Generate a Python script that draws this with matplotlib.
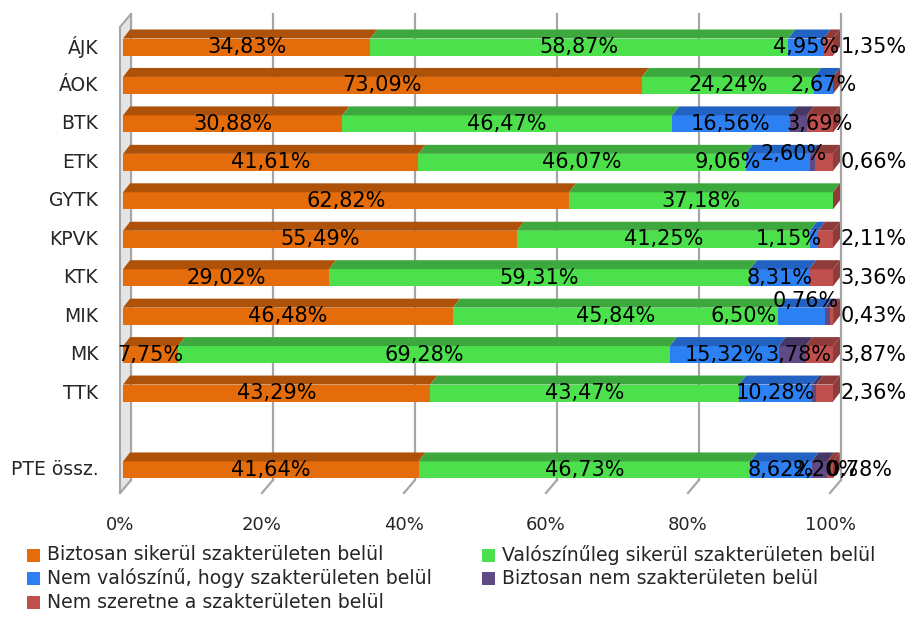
import matplotlib
matplotlib.use('Agg')
import matplotlib.pyplot as plt
from matplotlib.patches import Polygon, Rectangle
import numpy as np

# adatok (a kép alapján leolvasva)
categories = ['ÁJK', 'ÁOK', 'BTK', 'ETK', 'GYTK', 'KPVK', 'KTK', 'MIK', 'MK', 'TTK', '', 'PTE össz.']
biztosan = [34.83, 73.09, 30.88, 41.61, 62.82, 55.49, 29.02, 46.48, 7.75, 43.29, 0, 41.64]
valoszinuleg = [58.87, 24.24, 46.47, 46.07, 37.18, 41.25, 59.31, 45.84, 69.28, 43.47, 0, 46.73]
nem_valoszinu = [4.95, 2.67, 16.56, 9.06, 0, 1.15, 8.31, 6.50, 15.32, 10.28, 0, 8.62]
biztosan_nem = [0, 0, 2.40, 0.66, 0, 0, 0, 0.76, 3.78, 0.60, 0, 2.20]
nem_szeretne = [1.35, 0, 3.69, 2.60, 0, 2.11, 3.36, 0.43, 3.87, 2.36, 0, 0.78]
series_names = ['Biztosan sikerül szakterületen belül',
                'Valószínűleg sikerül szakterületen belül',
                'Nem valószínű, hogy szakterületen belül',
                'Biztosan nem szakterületen belül',
                'Nem szeretne a szakterületen belül']
tick_values = [0, 20, 40, 60, 80, 100]

# színek: elülső lap, felső lap
front_colors = ['#E46C0A', '#4CE14C', '#2C80F2', '#5F4A86', '#C0504D']
top_colors = ['#AE520A', '#3DA83D', '#2262C2', '#473766', '#8E3B39']

# rejtett címkék és kézzel mozgatott címkék (eltolás %-ban, pixelben felfelé)
hidden_labels = {('BTK', 3), ('TTK', 3)}
outside_labels = {('ÁJK', 4), ('ETK', 3), ('KPVK', 4), ('KTK', 4), ('MIK', 4), ('MK', 4), ('TTK', 4)}
moved_labels = {('ETK', 2): (-7.0, 0), ('ETK', 4): (-4.3, 8),
                ('KPVK', 2): (-3.5, 0), ('MIK', 2): (-8.1, 0),
                ('MIK', 3): (-3.1, 15), ('MK', 3): (0.9, 0),
                ('PTE össz.', 3): (0.8, 0), ('PTE össz.', 4): (4.2, 0)}

plt.rcParams['font.family'] = ['DejaVu Sans']

W, H = 909, 619
fig = plt.figure(figsize=(W / 100, H / 100), dpi=100)

# pixel -> adat leképezés
px0, ppx = 123, 7.1        # 0% helye és pixel / %
py0, ppy = 47, 38.45       # első sáv közepe és pixel / sor
xmin, xmax = -5, 105
ytop_px, ybot_px = 8, 505
ax = fig.add_axes([(px0 + xmin * ppx) / W, 1 - ybot_px / H,
                   (xmax - xmin) * ppx / W, (ybot_px - ytop_px) / H])
ax.set_xlim(xmin, xmax)
ax.set_ylim((ybot_px - py0) / ppy, (ytop_px - py0) / ppy)
ax.axis('off')

bar_h = 17 / ppy
bdx, bdy = 7 / ppx, 9 / ppy          # sáv mélysége
back_dx = 8 / ppx                    # hátfal eltolás
fdx, fdy = 11 / ppx, 13 / ppy        # padló mélysége
wall_top = (14 - py0) / ppy
floor_back = (480 - py0) / ppy

# hátfal rácsvonalai és padló átlói
for t in tick_values:
    ax.plot([t + back_dx, t + back_dx], [wall_top, floor_back], color='#A6A6A6', lw=1.6, zorder=1)
    ax.plot([t + back_dx - fdx, t + back_dx], [floor_back + fdy, floor_back], color='#A6A6A6', lw=1.6, zorder=1)

# bal oldalfal
wall = Polygon([(back_dx - fdx, wall_top + fdy), (back_dx, wall_top),
                (back_dx, floor_back), (back_dx - fdx, floor_back + fdy)],
               closed=True, facecolor='#E4E4E4', edgecolor='#A6A6A6', lw=1.5, zorder=1.5)
ax.add_patch(wall)

data = [biztosan, valoszinuleg, nem_valoszinu, biztosan_nem, nem_szeretne]
y = np.arange(len(categories))

for i, cat in enumerate(categories):
    vals = [s[i] for s in data]
    if sum(vals) == 0:
        continue
    yt = y[i] - bar_h / 2
    yb = y[i] + bar_h / 2
    left = 0
    for k, v in enumerate(vals):
        if v > 0:
            ax.barh(y[i], v, left=left, height=bar_h, color=front_colors[k], lw=0, zorder=3)
            ax.add_patch(Polygon([(left, yt), (left + v, yt), (left + v + bdx, yt - bdy), (left + bdx, yt - bdy)],
                                 closed=True, facecolor=top_colors[k], lw=0, zorder=3))
            key = (cat, k)
            label = f'{v:.2f}%'.replace('.', ',')
            if key in hidden_labels:
                pass
            elif key in outside_labels:
                ax.text(101.1, y[i], label, ha='left', va='center', fontsize=15, color='black', zorder=5)
            else:
                ddx, ddy = moved_labels.get(key, (0, 0))
                ax.text(left + v / 2 + ddx, y[i] - ddy / ppy, label, ha='center', va='center',
                        fontsize=15, color='black', zorder=5)
        left += v
    # jobb oldali véglap
    ax.add_patch(Polygon([(left, yt), (left + bdx, yt - bdy), (left + bdx, yb - bdy), (left, yb)],
                         closed=True, facecolor=top_colors[4], lw=0, zorder=3))
    ax.text(-3.5, y[i], cat, ha='right', va='center', fontsize=13.5, color='#262626')

# x tengely feliratai
for t in tick_values:
    ax.text(t + back_dx - fdx, (525 - py0) / ppy, f'{t}%', ha='center', va='center',
            fontsize=13, color='#262626')

# jelmagyarázat
legend_rows = [555, 578, 602]
legend_cols = [(27, 47), (482, 502)]
for n, name in enumerate(series_names):
    r, c = divmod(n, 2)
    mx, tx = legend_cols[c]
    yc = legend_rows[r]
    fig.add_artist(Rectangle((mx / W, 1 - (yc + 6.5) / H), 13 / W, 13 / H,
                             transform=fig.transFigure, facecolor=front_colors[n], lw=0))
    fig.text(tx / W, 1 - yc / H, name, ha='left', va='center', fontsize=13.6, color='#262626')

fig.savefig('out.png', dpi=100)
